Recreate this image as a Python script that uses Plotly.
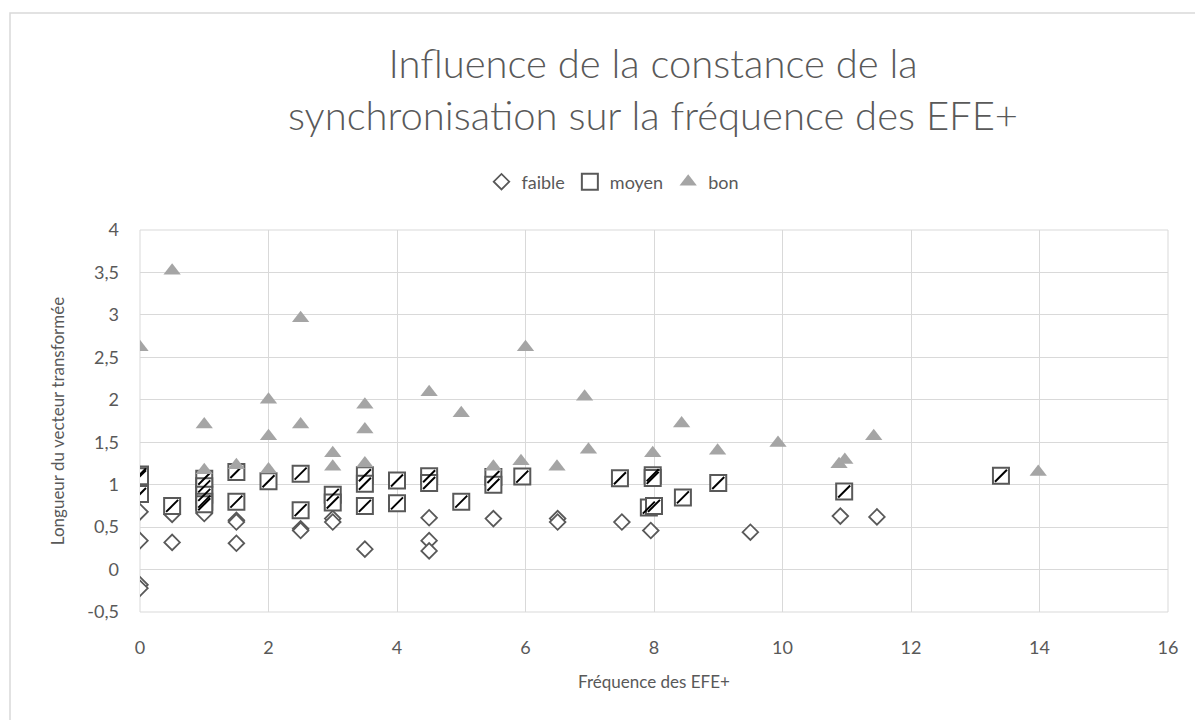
import plotly.graph_objects as go

# ---- data ----
faible_x = [0, 0, 0, 0, 0.5, 0.5, 1, 1.5, 1.5, 1.5, 2.5, 2.5, 3, 3, 3.5, 4.5, 4.5, 4.5,
            5.5, 6.5, 6.5, 7.5, 7.95, 9.5, 10.9, 11.47]
faible_y = [0.68, 0.34, -0.18, -0.22, 0.65, 0.32, 0.66, 0.58, 0.56, 0.31, 0.48, 0.46, 0.60, 0.56,
            0.24, 0.61, 0.34, 0.22, 0.60, 0.60, 0.56, 0.56, 0.46, 0.44, 0.63, 0.62]

moyen_x = [0, 0, 0, 0.5, 1, 1, 1, 1, 1, 1.5, 1.5, 2, 2.5, 2.5, 3, 3, 3.5, 3.5, 3.5, 4, 4,
           4.5, 4.5, 5, 5.5, 5.5, 5.95, 7.47, 7.98, 7.98, 7.92, 8.0, 8.45, 9.0, 10.96, 13.4]
moyen_y = [1.12, 1.10, 0.89, 0.75, 1.07, 0.98, 0.88, 0.80, 0.77, 1.15, 0.80, 1.04, 1.13, 0.70,
           0.88, 0.79, 1.11, 1.01, 0.75, 1.05, 0.78, 1.10, 1.02, 0.80, 1.09, 1.00, 1.095, 1.075,
           1.11, 1.08, 0.73, 0.75, 0.85, 1.02, 0.92, 1.105]

bon_x = [0, 0.5, 1, 1, 1.5, 2, 2, 2, 2.5, 2.5, 3, 3, 3.5, 3.5, 3.5, 4.5, 5, 5.5, 5.93, 6,
         6.49, 6.92, 6.98, 7.98, 8.43, 8.99, 9.93, 10.88, 10.97, 11.42, 13.98]
bon_y = [2.62, 3.52, 1.71, 1.17, 1.23, 2.0, 1.57, 1.18, 2.96, 1.71, 1.37, 1.21, 1.94, 1.65, 1.25,
         2.09, 1.84, 1.21, 1.275, 2.62, 1.21, 2.035, 1.41, 1.37, 1.72, 1.40, 1.49, 1.24, 1.29,
         1.57, 1.15]

series_names = ["faible", "moyen", "bon"]
y_tick_vals = [-0.5, 0, 0.5, 1, 1.5, 2, 2.5, 3, 3.5, 4]
y_tick_labels = ["-0,5", "0", "0,5", "1", "1,5", "2", "2,5", "3", "3,5", "4"]
x_tick_vals = [0, 2, 4, 6, 8, 10, 12, 14, 16]
title_text = "Influence de la constance de la<br>synchronisation sur la fréquence des EFE+"
x_title = "Fréquence des EFE+"
y_title = "Longueur du vecteur transformée"

TXT = "#595959"
GRID = "#d9d9d9"
FONT = "Lato"

fig = go.Figure()

fig.add_trace(go.Scatter(
    x=faible_x, y=faible_y, mode="markers", name=series_names[0],
    marker=dict(symbol="diamond", size=12, color="white",
                line=dict(color=TXT, width=1.8)),
))
fig.add_trace(go.Scatter(
    x=moyen_x, y=moyen_y, mode="markers", name=series_names[1],
    marker=dict(symbol="square", size=16, color="white",
                line=dict(color=TXT, width=2)),
))
fig.add_trace(go.Scatter(
    x=moyen_x, y=moyen_y, mode="markers", name=series_names[1], showlegend=False,
    hoverinfo="skip",
    marker=dict(symbol="line-ne", size=12, color="black",
                line=dict(color="black", width=2)),
))
fig.add_trace(go.Scatter(
    x=bon_x, y=bon_y, mode="markers", name=series_names[2],
    marker=dict(symbol="triangle-up", size=15, color="#a5a5a5",
                line=dict(color="#a5a5a5", width=0)),
))

# page body has an 8px margin: figure coordinates = reference pixels - 8
W, H = 1195, 712
L, R, T, B = 132, 1195 - 1160, 222, 712 - 604
pw, ph = W - L - R, H - T - B

fig.update_layout(
    width=W, height=H,
    margin=dict(l=L, r=R, t=T, b=B),
    paper_bgcolor="white", plot_bgcolor="white",
    separators=", ",
    font=dict(family=FONT, color=TXT, size=18),
    title=dict(text=title_text, x=645 / W, xanchor="center", y=1 - 70 / H, yanchor="middle",
               font=dict(family=FONT, size=40, color=TXT, weight=300)),
    legend=dict(orientation="h", x=(605 - L) / pw, xanchor="center",
                y=(604 - 174) / ph, yanchor="middle",
                font=dict(size=18, color=TXT), itemwidth=30, tracegroupgap=0),
    showlegend=True,
)
fig.update_xaxes(range=[0, 16], tickvals=x_tick_vals, showgrid=True, gridcolor=GRID, gridwidth=1,
                 zeroline=False, showline=False, ticks="", ticklabelstandoff=23,
                 tickfont=dict(size=18, color=TXT),
                 title=dict(text=x_title, font=dict(size=17, color=TXT), standoff=19))
fig.update_yaxes(range=[-0.5, 4], tickvals=y_tick_vals, ticktext=y_tick_labels,
                 showgrid=True, gridcolor=GRID, gridwidth=1,
                 zeroline=True, zerolinecolor=GRID, zerolinewidth=1, showline=False,
                 ticks="", ticklabelstandoff=20, tickfont=dict(size=18, color=TXT),
                 title=dict(text=y_title, font=dict(size=17, color=TXT), standoff=18))

fig.add_shape(type="rect", xref="paper", yref="paper", x0=0, x1=1, y0=0, y1=1,
              line=dict(color=GRID, width=1), layer="below")
# outer chart border
fig.add_shape(type="rect", xref="paper", yref="paper",
              x0=(2 - L) / pw, x1=(1215 - L) / pw,
              y0=(604 - 735) / ph, y1=(604 - 5) / ph,
              line=dict(color=GRID, width=1.5))

fig.write_html("out.html")
